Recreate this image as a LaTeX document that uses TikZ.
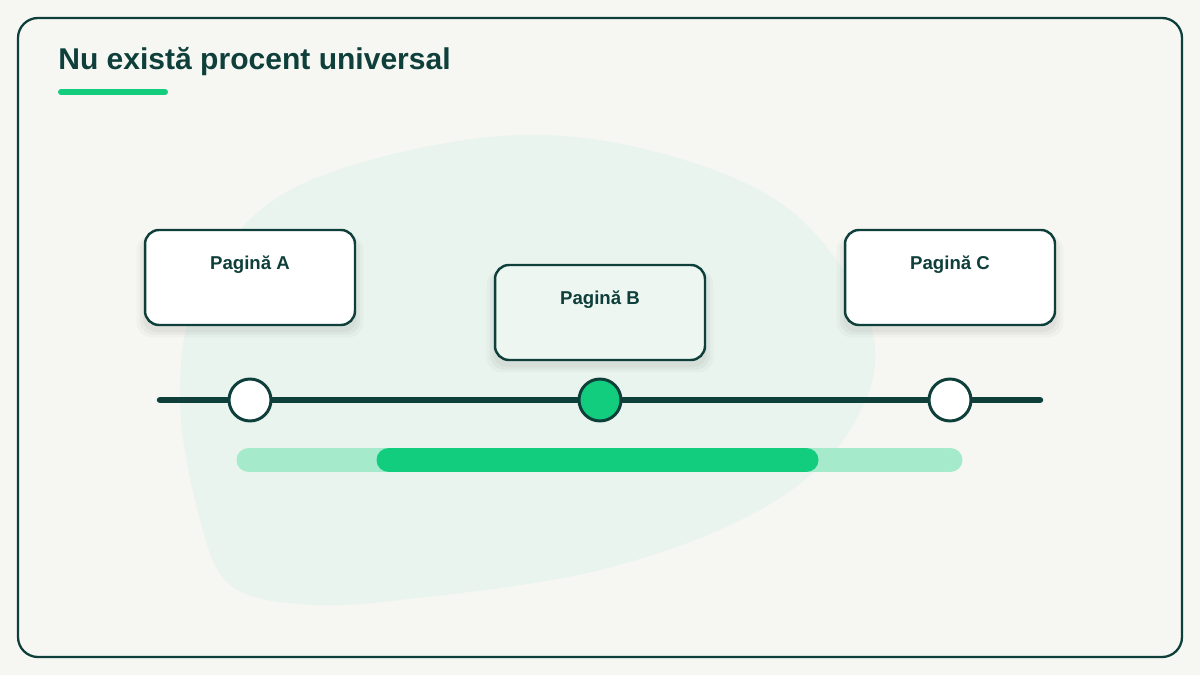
\documentclass[tikz,border=0pt]{standalone}
\usepackage{fontspec}
\setmainfont{Liberation Sans}
\usetikzlibrary{shadows}

\definecolor{inkGreen}{HTML}{0F3F3A}
\definecolor{mintGreen}{HTML}{12CD7D}
\definecolor{paleMint}{HTML}{A4EACB}
\definecolor{blobTint}{HTML}{EAF4EE}
\definecolor{pageBg}{HTML}{F6F7F3}

\begin{document}
\begin{tikzpicture}[x = 0.02cm, y = -0.02cm, font=\bfseries]
	\tikzstyle{softShadow}=[general shadow = {shadow xshift = 0pt, shadow yshift = -0.16cm, shadow scale = 1.08, opacity = 0.025, fill = black}, general shadow = {shadow xshift = 0pt, shadow yshift = -0.14cm, shadow scale = 1.05, opacity = 0.03, fill = black}, general shadow = {shadow xshift = 0pt, shadow yshift = -0.12cm, shadow scale = 1.02, opacity = 0.03, fill = black}]
	\tikzstyle{pageStyle}=[shape = rectangle, rounded corners = 0.28cm, draw = inkGreen, line width = 1.4pt, fill = white, minimum width = 4.2cm, inner sep = 0pt, text height = 0.79cm, text depth = 1.11cm, text = inkGreen, font = \fontsize{10.6}{12}\selectfont\bfseries, softShadow]
	\tikzstyle{pointStyle}=[shape = circle, minimum size = 0.84cm, inner sep = 0pt, draw = inkGreen, line width = 1.7pt, fill = white]
	\tikzstyle{barStyle}=[line cap = round, line width = 0.5cm]
	% canvas and frame
	\useasboundingbox[fill = pageBg] (0,0) rectangle (1200,675);
	\draw[inkGreen, line width = 1.3pt, rounded corners = 0.4cm] (18,18) rectangle (1182,657);
	% soft blob behind the pages
	\fill[blobTint] plot[smooth cycle, tension = 0.6] coordinates {(180,400) (200,290) (290,190) (480,138) (640,148) (790,210) (872,330) (850,430) (760,510) (600,570) (400,600) (300,604) (230,585) (200,520)};
	% title
	\node[anchor = base west, text = inkGreen, font = \fontsize{17.1}{20}\selectfont\bfseries, inner sep = 0pt] (title) at (58,70) {Nu există procent universal};
	\coordinate (u0) at (61,92);
	\coordinate (u1) at (165,92);
	\draw[mintGreen, line width = 0.12cm, line cap = round] (u0) -- (u1);
	% pages
	\node[pageStyle] (pageA) at (250,277.5) {Pagină A};
	\node[pageStyle, fill = blobTint!85!white] (pageB) at (600,312.5) {Pagină B};
	\node[pageStyle] (pageC) at (950,277.5) {Pagină C};
	% scale line
	\coordinate (l0) at (160,400);
	\coordinate (l1) at (1040,400);
	\draw[inkGreen, line width = 0.13cm, line cap = round] (l0) -- (l1);
	\node[pointStyle] (pA) at (250,400) {};
	\node[pointStyle, fill = mintGreen] (pB) at (600,400) {};
	\node[pointStyle] (pC) at (950,400) {};
	% ranges
	\coordinate (r0) at (249,460);
	\coordinate (r1) at (950,460);
	\coordinate (s0) at (389,460);
	\coordinate (s1) at (806,460);
	\draw[barStyle, paleMint] (r0) -- (r1);
	\draw[barStyle, mintGreen] (s0) -- (s1);
\end{tikzpicture}
\end{document}
